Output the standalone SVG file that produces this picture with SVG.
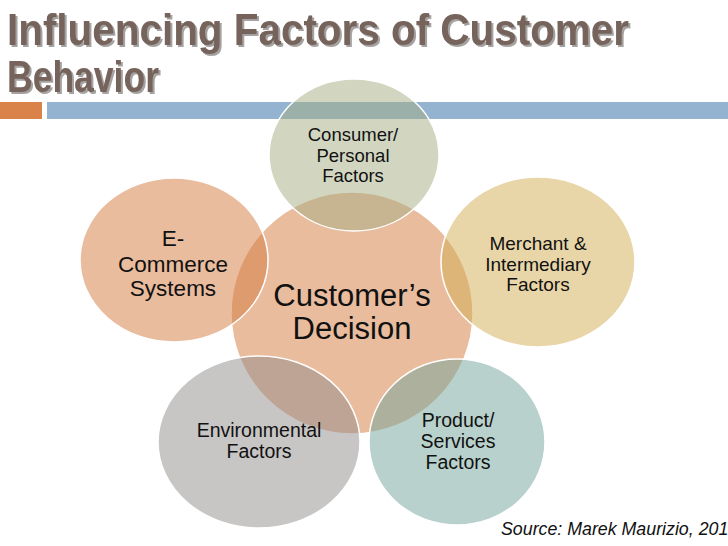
<svg xmlns="http://www.w3.org/2000/svg" width="728" height="546" viewBox="0 0 728 546">
<defs>
<filter id="tsh" x="-5%" y="-20%" width="110%" height="150%">
<feDropShadow dx="2" dy="2" stdDeviation="0.6" flood-color="#8f8b89" flood-opacity="0.8"/>
</filter>
</defs>
<style>
.title{font-family:"Liberation Sans",Arial,sans-serif;font-weight:bold;font-size:44px;fill:#76635c;filter:url(#tsh)}
.lbl{font-family:"Liberation Sans",Arial,sans-serif;fill:#111;text-anchor:middle}
.sat{stroke:#fff;stroke-width:1.5;fill-opacity:0.5}
</style>
<rect width="728" height="546" fill="#fff"/>
<g id="title">
<text class="title" x="7" y="45" textLength="622" lengthAdjust="spacingAndGlyphs">Influencing Factors of Customer</text>
<text class="title" x="7" y="92" textLength="152" lengthAdjust="spacingAndGlyphs">Behavior</text>
</g>
<g id="bars">
<rect x="0" y="102" width="42" height="17" fill="#d9834a"/>
<rect x="47" y="102" width="681" height="17" fill="#93b3d1"/>
</g>
<g id="center">
<circle cx="352" cy="313" r="121" fill="#e9bc9e" stroke="#fff" stroke-width="1.5"/>
</g>
<g id="consumer">
<ellipse class="sat" cx="354" cy="155" rx="85" ry="76" fill="#a5ad83"/>
<text class="lbl" font-size="18.5"><tspan x="353" y="141">Consumer/</tspan><tspan x="353" y="162">Personal</tspan><tspan x="353" y="182">Factors</tspan></text>
</g>
<g id="ecommerce">
<ellipse class="sat" cx="174" cy="260" rx="94" ry="82" fill="#d3793d"/>
<text class="lbl" font-size="22.5"><tspan x="173" y="246">E-</tspan><tspan x="173" y="272">Commerce</tspan><tspan x="173" y="296">Systems</tspan></text>
</g>
<g id="merchant">
<ellipse class="sat" cx="538" cy="262" rx="97" ry="85" fill="#d1ad51"/>
<text class="lbl" font-size="19"><tspan x="538" y="250">Merchant &amp;</tspan><tspan x="538" y="270.5">Intermediary</tspan><tspan x="538" y="291">Factors</tspan></text>
</g>
<g id="environmental">
<ellipse class="sat" cx="259" cy="442" rx="101" ry="86" fill="#918b8b"/>
<text class="lbl" font-size="19.5"><tspan x="259" y="437">Environmental</tspan><tspan x="259" y="458">Factors</tspan></text>
</g>
<g id="product">
<ellipse class="sat" cx="457" cy="442" rx="88" ry="83" fill="#71a399"/>
<text class="lbl" font-size="19.5"><tspan x="458" y="427">Product/</tspan><tspan x="458" y="448">Services</tspan><tspan x="458" y="469">Factors</tspan></text>
</g>
<g id="center-label">
<text class="lbl" font-size="31"><tspan x="352" y="306">Customer’s</tspan><tspan x="352" y="339">Decision</tspan></text>
</g>
<g id="connectors"></g>
<text x="501" y="535" font-family="'Liberation Sans',Arial,sans-serif" font-style="italic" font-size="17.8" fill="#111">Source: Marek Maurizio, 201</text>
</svg>
